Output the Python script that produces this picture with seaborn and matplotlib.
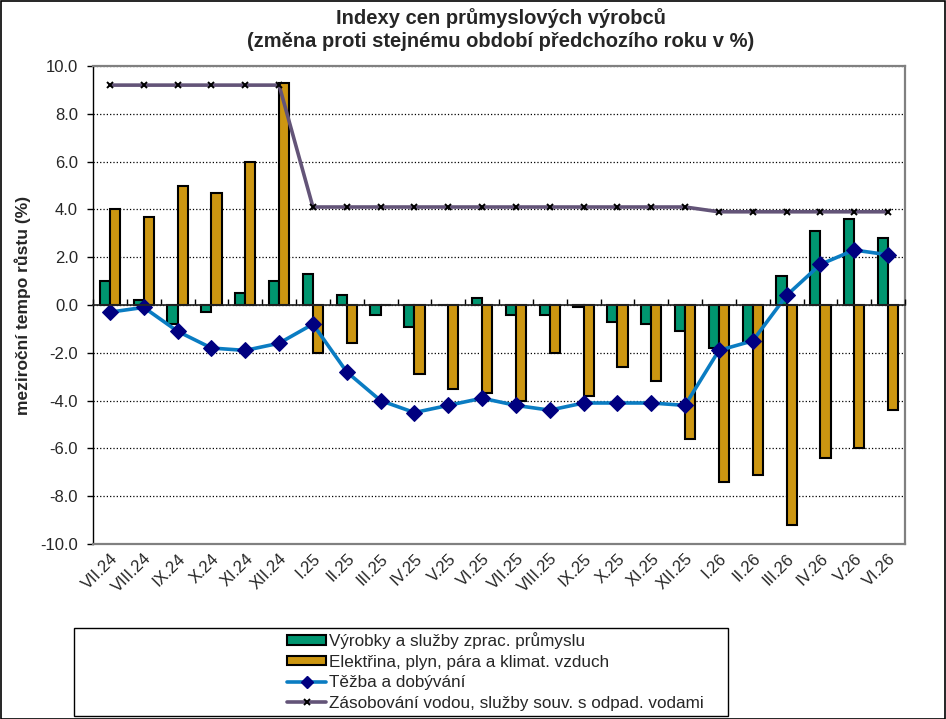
import numpy as np
import pandas as pd
import matplotlib
matplotlib.use('Agg')
import matplotlib.pyplot as plt
from matplotlib.patches import Patch, Rectangle
from matplotlib.lines import Line2D
import seaborn as sns

# Chart data
months = ['VII.24', 'VIII.24', 'IX.24', 'X.24', 'XI.24', 'XII.24',
          'I.25', 'II.25', 'III.25', 'IV.25', 'V.25', 'VI.25',
          'VII.25', 'VIII.25', 'IX.25', 'X.25', 'XI.25', 'XII.25',
          'I.26', 'II.26', 'III.26', 'IV.26', 'V.26', 'VI.26']
vyrobky = [1.0, 0.2, -0.8, -0.3, 0.5, 1.0, 1.3, 0.4, -0.4, -0.9, 0.0, 0.3,
           -0.4, -0.4, -0.1, -0.7, -0.8, -1.1, -1.8, -1.6, 1.2, 3.1, 3.6, 2.8]
elektrina = [4.0, 3.7, 5.0, 4.7, 6.0, 9.3, -2.0, -1.6, 0.0, -2.9, -3.5, -3.7,
             -4.0, -2.0, -3.8, -2.6, -3.2, -5.6, -7.4, -7.1, -9.2, -6.4, -6.0, -4.4]
tezba = [-0.3, -0.1, -1.1, -1.8, -1.9, -1.6, -0.8, -2.8, -4.0, -4.5, -4.2, -3.9,
         -4.2, -4.4, -4.1, -4.1, -4.1, -4.2, -1.9, -1.5, 0.4, 1.7, 2.3, 2.1]
voda = [9.2, 9.2, 9.2, 9.2, 9.2, 9.2, 4.1, 4.1, 4.1, 4.1, 4.1, 4.1,
        4.1, 4.1, 4.1, 4.1, 4.1, 4.1, 3.9, 3.9, 3.9, 3.9, 3.9, 3.9]

series_names = ['Výrobky a služby zprac. průmyslu',
                'Elektřina, plyn, pára a klimat. vzduch',
                'Těžba a dobývání',
                'Zásobování vodou, služby souv. s odpad. vodami']
y_ticks = [-10, -8, -6, -4, -2, 0, 2, 4, 6, 8, 10]

green = '#009670'
orange = '#CC9611'
blue = '#0A7CC2'
navy = '#000080'
purple = '#635478'

sns.set_theme(style='white')
plt.rcParams['font.family'] = ['Liberation Sans', 'DejaVu Sans']

W, H = 946, 719
fig = plt.figure(figsize=(W / 100, H / 100), dpi=100)
ax = fig.add_axes([93 / W, 1 - 544 / H, (905 - 93) / W, (544 - 66) / H])

# bars
bars = pd.DataFrame({
    'month': months * 2,
    'value': vyrobky + elektrina,
    'series': [series_names[0]] * len(months) + [series_names[1]] * len(months),
})
sns.barplot(data=bars, x='month', y='value', hue='series', order=months,
            palette=[green, orange], saturation=1, width=0.6, gap=0,
            edgecolor='black', linewidth=1.5, legend=False, ax=ax, zorder=3)

pos = np.arange(len(months))
sns.lineplot(x=pos, y=voda, color=purple, linewidth=2.6, marker='x',
             markersize=4.5, markeredgewidth=1.4, markeredgecolor='black',
             ax=ax, zorder=4)
sns.lineplot(x=pos, y=tezba, color=blue, linewidth=2.6, marker='D',
             markersize=8, markerfacecolor=navy, markeredgecolor=navy,
             ax=ax, zorder=5)

ax.set_xlim(-0.5, len(months) - 0.5)
ax.set_ylim(-10, 10)
ax.set_yticks(y_ticks)
ax.set_yticklabels([f'{v:.1f}' for v in y_ticks], fontsize=12)
ax.yaxis.grid(True, linestyle=':', color='black', linewidth=0.9)
ax.set_axisbelow(True)

ax.set_xlabel('')
ax.set_xticks(pos)
ax.set_xticklabels(months, rotation=45, ha='right', rotation_mode='anchor',
                   fontsize=12)
ax.tick_params(axis='x', length=0, pad=5)
ax.tick_params(axis='y', direction='out', length=4.3, width=1, color='black',
               left=True, pad=6.5)

for side in ['top', 'right', 'bottom']:
    ax.spines[side].set_color('#808080')
    ax.spines[side].set_linewidth(1.6)
ax.spines['left'].set_color('black')
ax.spines['left'].set_linewidth(1)

ax.set_ylabel('meziroční tempo růstu (%)', fontsize=12.5, fontweight='bold')
ax.yaxis.set_label_coords((31 - 93) / 812, 0.5)

# category axis crossing at zero with tick marks between categories
sec = ax.secondary_xaxis(0.5)
sec.set_xticks(np.arange(-0.5, len(months), 1))
sec.set_xticklabels([])
sec.tick_params(direction='out', length=4, width=1, color='black')
sec.spines['bottom'].set_color('black')
sec.spines['bottom'].set_linewidth(1.2)
sec.set_zorder(6)

fig.text(501 / W, 1 - 8 / H,
         'Indexy cen průmyslových výrobců\n(změna proti stejnému období předchozího roku v %)',
         ha='center', va='top', fontsize=14.5, fontweight='bold', linespacing=1.3)

# legend
handles = [
    Patch(facecolor=green, edgecolor='black', linewidth=1.5),
    Patch(facecolor=orange, edgecolor='black', linewidth=1.5),
    Line2D([], [], color=blue, linewidth=2.6, marker='D', markersize=6,
           markerfacecolor=navy, markeredgecolor=navy),
    Line2D([], [], color=purple, linewidth=2.6, marker='x', markersize=4,
           markeredgewidth=1.4, markeredgecolor='black'),
]
fig.add_artist(Rectangle((74 / W, 1 - 716 / H), (728 - 74) / W, (716 - 628) / H,
                         transform=fig.transFigure, fill=False,
                         edgecolor='black', linewidth=1))
fig.legend(handles, series_names, loc='upper left',
           bbox_to_anchor=(287 / W, 1 - 632 / H), frameon=False, fontsize=12.3,
           handlelength=2.3, handleheight=0.5, handletextpad=0.15,
           labelspacing=0.33, borderpad=0, borderaxespad=0)

fig.add_artist(Rectangle((0.5 / W, 0.5 / H), 1 - 1.5 / W, 1 - 1.5 / H,
                         transform=fig.transFigure, fill=False,
                         edgecolor='black', linewidth=1.2))

fig.savefig('out.png', dpi=100)
